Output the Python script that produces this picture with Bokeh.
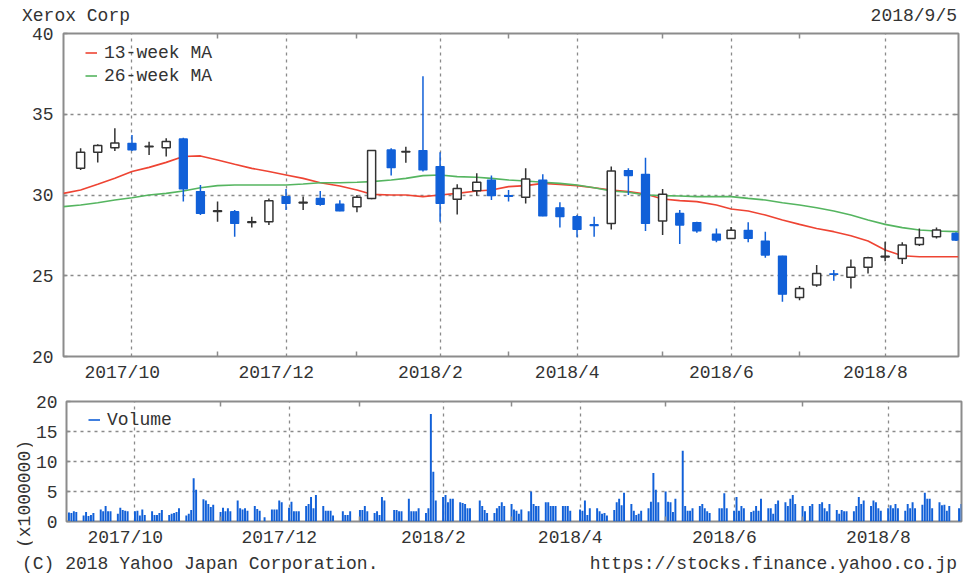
import pandas as pd
from bokeh.plotting import figure
from bokeh.models import (Range1d, LinearAxis, FixedTicker, Grid, Legend,
                          LegendItem, ColumnDataSource, Div)
from bokeh.layouts import column, row
from bokeh.embed import file_html
from bokeh.resources import INLINE

# ---------------- data ----------------
title_text = "Xerox Corp"
date_text = "2018/9/5"
copyright_text = "(C) 2018 Yahoo Japan Corporation."
url_text = "https://stocks.finance.yahoo.co.jp"
volume_unit = "(x1000000)"

week_dates = ["2017-09-11", "2017-09-18", "2017-09-25", "2017-10-02", "2017-10-09",
              "2017-10-16", "2017-10-23", "2017-10-30", "2017-11-06", "2017-11-13",
              "2017-11-20", "2017-11-27", "2017-12-04", "2017-12-11", "2017-12-18",
              "2017-12-26", "2018-01-02", "2018-01-08", "2018-01-16", "2018-01-22",
              "2018-01-29", "2018-02-05", "2018-02-12", "2018-02-20", "2018-02-26",
              "2018-03-05", "2018-03-12", "2018-03-19", "2018-03-26", "2018-04-02",
              "2018-04-09", "2018-04-16", "2018-04-23", "2018-04-30", "2018-05-07",
              "2018-05-14", "2018-05-21", "2018-05-29", "2018-06-04", "2018-06-11",
              "2018-06-18", "2018-06-25", "2018-07-02", "2018-07-09", "2018-07-16",
              "2018-07-23", "2018-07-30", "2018-08-06", "2018-08-13", "2018-08-20",
              "2018-08-27", "2018-09-04"]

opens = [31.65, 32.64, 32.93, 33.20, 32.98, 32.93, 33.47, 30.21, 28.98, 28.97,
         28.30, 28.35, 29.90, 29.50, 29.79, 29.44, 29.28, 29.79, 32.79, 32.66,
         32.75, 31.76, 29.73, 30.27, 30.93, 29.97, 29.86, 30.93, 29.21, 28.66,
         28.16, 28.24, 31.51, 31.28, 28.39, 28.86, 28.29, 27.58, 27.31, 27.81,
         27.15, 26.22, 23.66, 24.42, 25.12, 24.90, 25.52, 26.16, 26.07, 26.94,
         27.42, 27.62]
highs = [32.89, 33.14, 34.13, 33.72, 33.30, 33.51, 33.55, 30.62, 29.59, 29.07,
         28.66, 29.79, 30.37, 29.90, 30.25, 29.67, 30.00, 32.79, 32.89, 32.98,
         37.36, 32.64, 30.66, 31.34, 31.20, 30.31, 31.65, 31.28, 29.55, 28.76,
         28.66, 31.76, 31.65, 32.31, 30.37, 29.07, 28.35, 27.93, 28.02, 28.31,
         27.73, 26.24, 24.36, 25.66, 25.35, 26.01, 26.18, 27.10, 27.07, 27.93,
         27.98, 27.70]
lows = [31.55, 32.02, 32.73, 32.73, 32.48, 32.38, 29.59, 28.76, 28.35, 27.42,
        27.98, 28.14, 29.07, 29.07, 29.34, 29.00, 28.93, 29.73, 31.20, 32.00,
        31.45, 28.35, 28.80, 29.96, 29.69, 29.59, 29.48, 28.68, 27.98, 27.38,
        27.42, 27.87, 30.00, 27.77, 27.52, 26.96, 27.67, 27.07, 27.27, 27.07,
        26.12, 23.39, 23.49, 24.32, 24.69, 24.21, 25.14, 25.90, 25.72, 26.84,
        27.31, 27.15]
closes = [32.64, 33.06, 33.22, 32.79, 33.02, 33.31, 30.37, 28.86, 29.02, 28.24,
          28.35, 29.65, 29.48, 29.55, 29.42, 29.01, 29.86, 32.75, 31.69, 32.70,
          31.55, 29.48, 30.41, 30.79, 29.96, 29.92, 30.99, 28.70, 28.66, 27.87,
          28.10, 31.49, 31.20, 28.24, 30.04, 28.14, 27.77, 27.21, 27.81, 27.31,
          26.28, 23.86, 24.21, 25.14, 25.08, 25.52, 26.12, 26.20, 26.90, 27.36,
          27.83, 27.21]

ma_dates = ["2017-09-04"] + week_dates + ["2018-09-05"]
ma13 = [30.10, 30.31, 30.66, 31.03, 31.45, 31.71, 32.02, 32.38, 32.42, 32.17,
        31.90, 31.65, 31.45, 31.24, 31.03, 30.76, 30.56, 30.31, 30.04, 30.00,
        30.00, 29.90, 30.00, 30.10, 30.25, 30.31, 30.52, 30.58, 30.72, 30.66,
        30.58, 30.45, 30.31, 30.21, 30.06, 29.75, 29.65, 29.59, 29.38, 29.13,
        29.01, 28.76, 28.45, 28.18, 27.93, 27.73, 27.48, 27.15, 26.59, 26.24,
        26.18, 26.18, 26.18, 26.18]
ma26 = [29.28, 29.38, 29.52, 29.69, 29.83, 30.00, 30.10, 30.25, 30.45, 30.58,
        30.62, 30.62, 30.62, 30.62, 30.68, 30.76, 30.76, 30.79, 30.83, 30.93,
        31.03, 31.20, 31.24, 31.14, 31.10, 31.03, 30.93, 30.87, 30.79, 30.72,
        30.62, 30.45, 30.25, 30.17, 30.00, 29.96, 29.94, 29.90, 29.90, 29.90,
        29.79, 29.69, 29.52, 29.38, 29.21, 29.01, 28.76, 28.45, 28.18, 27.98,
        27.83, 27.77, 27.73, 27.73]

holidays = ["2017-11-23", "2017-12-25", "2018-01-01", "2018-01-15", "2018-02-19",
            "2018-03-30", "2018-05-28", "2018-07-04", "2018-09-03"]

# daily volume, millions of shares (one row per week)
volume_m = [
    1.5, 1.4, 1.7, 1.6,
    1.0, 1.6, 0.9, 1.1, 1.4,
    2.0, 1.7, 2.6, 1.7, 1.7,
    1.3, 2.3, 1.9, 1.8, 1.7,
    1.7, 1.8, 1.0, 2.0, 1.1,
    1.7, 1.1, 1.1, 1.4, 1.9,
    1.1, 1.3, 1.4, 1.6, 2.2,
    1.0, 1.3, 1.9, 7.2, 5.3,
    3.7, 3.5, 2.9, 2.4, 2.8,
    1.6, 2.3, 1.7, 2.2, 1.7,
    3.5, 2.2, 2.0, 2.2, 1.8,
    2.6, 2.1, 1.8, 0.7,
    2.0, 2.0, 2.0, 3.5, 3.2,
    2.3, 3.3, 1.7, 1.7, 1.7,
    2.6, 2.9, 4.1, 2.2, 4.4,
    2.6, 1.8, 1.8, 1.8, 1.0,
    1.7, 1.1, 1.1, 1.7,
    1.9, 1.9, 2.6, 1.7,
    1.4, 1.7, 1.1, 4.1, 3.5,
    1.9, 1.9, 1.7, 1.7,
    3.8, 1.7, 1.7, 1.7, 2.2,
    1.4, 2.2, 17.9, 8.3, 3.5,
    4.1, 4.4, 3.2, 3.8, 3.8,
    3.2, 3.1, 2.9, 2.2, 2.2,
    3.5, 2.6, 1.9, 1.4,
    1.4, 2.2, 2.6, 3.2, 2.6,
    2.9, 2.0, 1.8, 1.3, 2.0,
    1.7, 5.0, 2.9, 2.6, 2.6,
    3.2, 3.2, 2.6, 2.6, 2.6,
    2.6, 2.6, 2.6, 1.8,
    2.0, 1.8, 3.5, 1.1, 2.2,
    2.2, 1.7, 1.3, 1.4, 1.0,
    1.9, 3.2, 3.8, 2.7, 4.8,
    2.9, 1.8, 1.1, 1.3, 1.8,
    2.2, 3.3, 8.1, 5.3, 3.2,
    5.0, 3.3, 3.2, 1.6, 3.8,
    11.8, 2.6, 1.8, 1.8, 2.2,
    2.6, 2.9, 2.2, 1.7, 1.4,
    2.2, 2.2, 4.7, 2.2,
    1.8, 4.1, 1.8, 2.6, 2.2,
    1.6, 1.8, 2.6, 1.8, 3.8,
    2.2, 2.2, 1.3, 2.9, 3.5,
    3.2, 2.6, 3.8, 4.4, 2.9,
    2.6, 1.7, 2.6, 2.9,
    2.9, 3.2, 2.2, 1.7, 2.9,
    1.9, 1.3, 1.9, 1.7, 1.7,
    1.7, 2.6, 4.1, 2.9, 3.5,
    2.6, 3.5, 3.2, 2.2, 1.8,
    2.2, 2.7, 2.2, 2.9, 2.2,
    1.8, 2.9, 2.2, 3.2, 2.2,
    2.8, 4.8, 3.8, 3.8, 2.2,
    3.2, 2.7, 2.8, 1.8, 2.6,
    2.2, 2.9,
]

grid_months = ["2017-10-02", "2017-12-04", "2018-02-05", "2018-04-02", "2018-06-04", "2018-08-06"]
grid_labels = ["2017/10", "2017/12", "2018/2", "2018/4", "2018/6", "2018/8"]
minor_months = ["2017-11-06", "2018-01-02", "2018-03-05", "2018-05-07", "2018-07-02"]
price_ticks = [20, 25, 30, 35, 40]
price_grid = [25, 30, 35]
vol_ticks = [0, 5, 10, 15, 20]
vol_grid = [5, 10, 15]

# ---------------- style ----------------
FONT = "Liberation Mono"
FS = "18px"
TXT = "#333333"
FRAME = "#8c8c8c"
GRIDC = "#8a8a8a"
BLUE = "#1160d8"
DARK = "#333333"
RED = "#ee4433"
GREEN = "#55b560"

TOTAL_W = 963
LEFT = 63
FRAME_W = 895
RIGHT = TOTAL_W - LEFT - FRAME_W
STRIP_W = 32
HEAD_H = 26
VOL_H = 160
FOOT_H = 28

ORIGIN = pd.Timestamp("2017-09-04")


def day(s):
    return (pd.Timestamp(s) - ORIGIN).days


X_START, X_END = 0, 366
LABEL_SHIFT = -4  # labels sit slightly left of the gridline
grid_pos = [day(d) for d in grid_months]
label_pos = [g + LABEL_SHIFT for g in grid_pos]
minor_pos = [day(d) for d in minor_months]
label_over = {lp: lab for lp, lab in zip(label_pos, grid_labels)}

x_range = Range1d(X_START, X_END)

BASE_CSS = ("font-family:'Liberation Mono',monospace;font-size:18px;line-height:21px;"
            "color:%s;white-space:nowrap;" % TXT)


def text_div(w, h, spans):
    inner = "".join('<span style="position:absolute;%s">%s</span>' % (pos, txt)
                    for pos, txt in spans)
    html = ('<div style="position:relative;width:%dpx;height:%dpx;%s">%s</div>'
            % (w, h, BASE_CSS, inner))
    return Div(text=html, width=w, height=h, margin=0)


def make_fig(fh, top_border, bottom_border, left_border, y0, y1):
    p = figure(frame_width=FRAME_W, frame_height=fh, min_border_left=left_border,
               min_border_right=RIGHT, min_border_top=top_border,
               min_border_bottom=bottom_border,
               x_range=x_range, y_range=Range1d(y0, y1),
               x_axis_type=None, y_axis_type=None,
               output_backend="svg", toolbar_location=None)
    p.outline_line_color = FRAME
    p.outline_line_width = 2
    p.background_fill_color = "white"
    p.border_fill_color = "white"
    return p


def add_axes(p, yticks, ygrid, ystandoff):
    def base(ax):
        ax.axis_line_color = None
        ax.major_label_text_font = FONT
        ax.major_label_text_font_size = FS
        ax.major_label_text_color = TXT
        ax.major_tick_line_color = FRAME
        ax.minor_tick_line_color = FRAME
        ax.major_tick_line_width = 1.5
        ax.minor_tick_line_width = 1.5
        return ax

    bottom = base(LinearAxis(ticker=FixedTicker(ticks=label_pos, minor_ticks=minor_pos),
                             major_label_overrides=label_over,
                             major_tick_in=0, major_tick_out=0,
                             minor_tick_in=5, minor_tick_out=0,
                             major_label_standoff=6))
    p.add_layout(bottom, "below")
    top = base(LinearAxis(ticker=FixedTicker(ticks=[], minor_ticks=minor_pos),
                          major_tick_in=0, major_tick_out=0,
                          minor_tick_in=5, minor_tick_out=0,
                          major_label_standoff=0))
    p.add_layout(top, "above")
    left = base(LinearAxis(ticker=FixedTicker(ticks=yticks, minor_ticks=[]),
                           major_tick_in=4, major_tick_out=0,
                           minor_tick_in=0, minor_tick_out=0,
                           major_label_standoff=ystandoff))
    p.add_layout(left, "left")
    right = base(LinearAxis(ticker=FixedTicker(ticks=ygrid, minor_ticks=[]),
                            major_tick_in=5, major_tick_out=0,
                            minor_tick_in=0, minor_tick_out=0,
                            major_label_standoff=0))
    right.major_label_text_font_size = "1px"
    right.major_label_text_color = None
    p.add_layout(right, "right")

    for dim, ticks in ((0, grid_pos), (1, ygrid)):
        g = Grid(dimension=dim, ticker=FixedTicker(ticks=ticks),
                 grid_line_color=GRIDC, grid_line_dash="3 4", grid_line_width=1.3)
        p.add_layout(g)


def legend(items, loc):
    return Legend(items=items, location=loc, orientation="vertical", padding=0, margin=0,
                  spacing=2, glyph_width=12, glyph_height=21, label_height=21,
                  label_standoff=7, background_fill_alpha=0, border_line_color=None,
                  label_text_font=FONT, label_text_font_size=FS, label_text_color=TXT)


# ---------------- header ----------------
head = text_div(TOTAL_W, HEAD_H, [("left:22px;top:6px", title_text),
                                  ("right:6px;top:6px", date_text)])

# ---------------- price panel ----------------
p1 = make_fig(323, 33 - HEAD_H, 32, LEFT, 20, 40)
add_axes(p1, price_ticks, price_grid, 10)

ma_x = [day(d) for d in ma_dates]
r13 = p1.line(ma_x, ma13, line_color=RED, line_width=1.6)
r26 = p1.line(ma_x, ma26, line_color=GREEN, line_width=1.6)

wx = [day(d) for d in week_dates]
up = [c >= o for o, c in zip(opens, closes)]


def cds(mask):
    idx = [i for i, m in enumerate(mask) if m]
    return ColumnDataSource(dict(
        x=[wx[i] for i in idx],
        top=[max(opens[i], closes[i]) for i in idx],
        bottom=[min(opens[i], closes[i]) for i in idx],
        high=[highs[i] for i in idx],
        low=[lows[i] for i in idx]))


src_up = cds(up)
src_dn = cds([not u for u in up])
BODY_W = 3.3
p1.segment("x", "high", "x", "low", source=src_up, line_color=DARK, line_width=1.5)
p1.segment("x", "high", "x", "low", source=src_dn, line_color=BLUE, line_width=1.5)
p1.vbar(x="x", top="top", bottom="bottom", width=BODY_W, source=src_up,
        fill_color="white", line_color=DARK, line_width=1.5)
p1.vbar(x="x", top="top", bottom="bottom", width=BODY_W, source=src_dn,
        fill_color=BLUE, line_color=BLUE, line_width=1.2)

p1.add_layout(legend([LegendItem(label="13-week MA", renderers=[r13]),
                      LegendItem(label="26-week MA", renderers=[r26])], (22, 270)))

# ---------------- volume panel ----------------
p2 = make_fig(120, 13, 27, LEFT - STRIP_W, 0, 20)
add_axes(p2, vol_ticks, vol_grid, 9)

tdays = [d for d in pd.bdate_range("2017-09-05", "2018-09-05")
         if d.strftime("%Y-%m-%d") not in holidays]
assert len(tdays) == len(volume_m), (len(tdays), len(volume_m))
vx = [(d - ORIGIN).days for d in tdays]
vsrc = ColumnDataSource(dict(x=vx, top=volume_m))
p2.vbar(x="x", top="top", bottom=0, width=0.8, source=vsrc,
        fill_color=BLUE, line_color=None)
# one-point line: draws nothing itself, gives the legend its short blue dash
rvol = p2.line(x=vx[:1], y=volume_m[:1], line_color=BLUE, line_width=1.6)
p2.add_layout(legend([LegendItem(label="Volume", renderers=[rvol])], (22, 91)))

unit = text_div(STRIP_W, VOL_H, [("left:24.5px;top:106px;"
                                  "transform:translate(-50%,-50%) rotate(-90deg)",
                                  volume_unit)])

# ---------------- footer ----------------
foot = text_div(TOTAL_W, FOOT_H, [("left:22px;top:4px", copyright_text),
                                  ("right:6px;top:4px", url_text)])

layout = column(head, p1, row(unit, p2, spacing=0), foot, spacing=0)
open("out.html", "w").write(file_html(layout, INLINE))
